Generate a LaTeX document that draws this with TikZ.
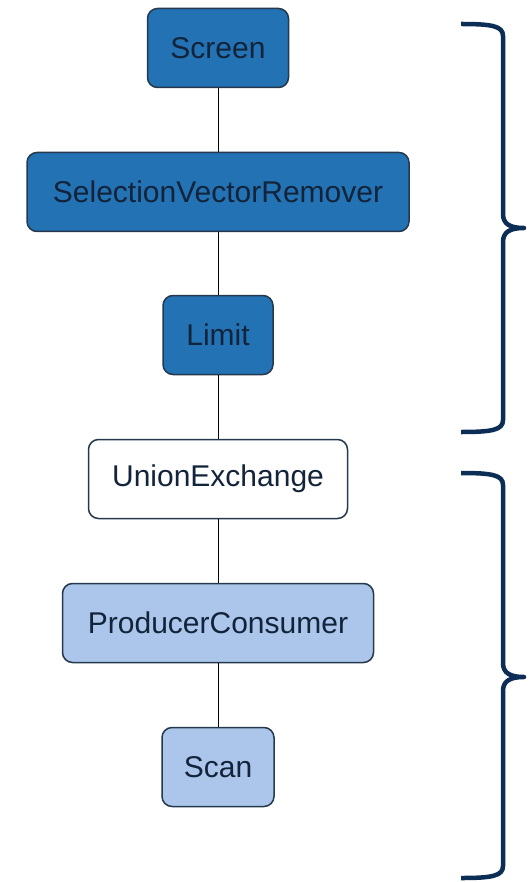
\documentclass[tikz,border=0pt]{standalone}
\usepackage{fontspec}
\setmainfont{Liberation Sans}
\definecolor{darkfill}{HTML}{2272B4}
\definecolor{lightfill}{HTML}{ABC6EA}
\definecolor{boxline}{HTML}{26384C}
\definecolor{txt}{HTML}{12233A}
\definecolor{bracecol}{HTML}{0C2D55}
\begin{document}
\begin{tikzpicture}[x=1pt,y=-1pt,
  box/.style={rectangle,rounded corners=10pt,draw=boxline,line width=1.5pt,
    text=txt,font=\fontsize{30}{35}\selectfont,inner sep=0pt,minimum height=79pt},
  dark/.style={box,fill=darkfill},
  light/.style={box,fill=lightfill},
  white/.style={box,fill=white},
  link/.style={draw=black,line width=1pt},
  brace/.style={draw=bracecol,line width=4.5pt,line cap=butt,line join=round}]
\useasboundingbox (0,0) rectangle (528,882);
\node[dark,minimum width=141pt] (screen) at (218,48) {Screen};
\node[dark,minimum width=382pt] (svr) at (218,192) {SelectionVectorRemover};
\node[dark,minimum width=110pt] (limit) at (218,335) {Limit};
\node[white,minimum width=259pt] (union) at (218,479) {UnionExchange};
\node[light,minimum width=311pt] (pc) at (218,623) {ProducerConsumer};
\node[light,minimum width=112pt] (scan) at (218,767) {Scan};
\draw[link] (screen) -- (svr);
\draw[link] (svr) -- (limit);
\draw[link] (limit) -- (union);
\draw[link] (union) -- (pc);
\draw[link] (pc) -- (scan);
\draw[brace] (461,24) .. controls (492,24) and (503,26) .. (503,36) -- (503,214)
  .. controls (503,224) and (510,228) .. (524,228)
  .. controls (510,228) and (503,232) .. (503,242) -- (503,420)
  .. controls (503,430) and (492,432) .. (461,432);
\draw[brace] (461,473) .. controls (492,473) and (503,475) .. (503,485) -- (503,663)
  .. controls (503,673) and (510,677) .. (524,677)
  .. controls (510,677) and (503,681) .. (503,691) -- (503,866)
  .. controls (503,876) and (492,878) .. (461,878);
\end{tikzpicture}
\end{document}
